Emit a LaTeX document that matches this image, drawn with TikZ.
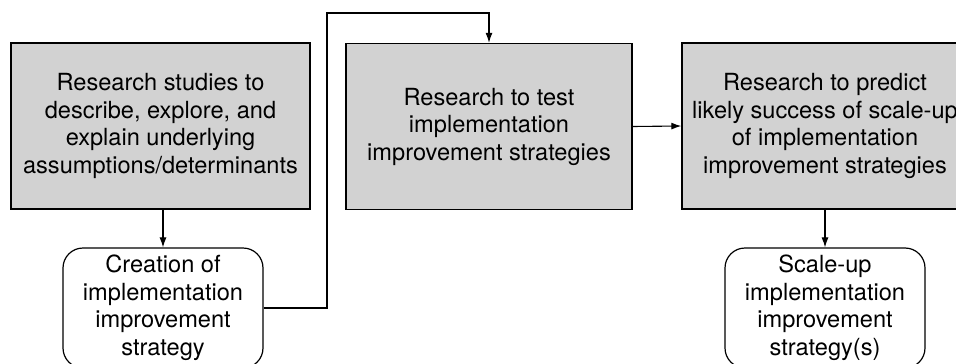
\documentclass[tikz,border=0pt]{standalone}
\usepackage{fontspec}
\setmainfont{TeX Gyre Heros}
\usetikzlibrary{arrows.meta}

\tikzset{
  studybox/.style={draw, fill=gray!35, line width=1.4pt, align=center,
    minimum height=166pt, inner sep=0pt},
  stratbox/.style={draw, fill=white, line width=1.2pt, rounded corners=20pt,
    align=center, minimum width=200pt, minimum height=120pt, inner sep=0pt},
  flow/.style={line width=1.1pt, -{Latex[length=10pt,width=7pt]}},
}

\begin{document}
\begin{tikzpicture}[x=1pt, y=-1pt, font=\fontsize{23.6}{27.5}\selectfont]
  \clip (0,0) rectangle (956,364);
  \fill[white] (0,0) rectangle (956,364);
  % ---------- research boxes ----------
  \node[studybox, minimum width=299pt] (describe) at (160.5,126)
    {Research studies to\\describe, explore, and\\explain underlying\\assumptions/determinants};
  \node[studybox, minimum width=286pt] (test) at (489,126.5)
    {Research to test\\implementation\\improvement strategies};
  \node[studybox, minimum width=286pt] (predict) at (825,126)
    {Research to predict\\likely success of scale-up\\of implementation\\improvement strategies};
  % ---------- strategy boxes ----------
  \node[stratbox] (create) at (163,308)
    {Creation of\\implementation\\improvement\\strategy};
  \node[stratbox] (scaleup) at (825,308)
    {Scale-up\\implementation\\improvement\\strategy(s)};
  % ---------- connectors ----------
  \coordinate (bend) at (327,13);
  \draw[flow] (describe.south -| create.north) -- (create.north);
  \draw[flow] (create.east) -| (bend) -| (test.north);
  \draw[flow] (test.east) -- (predict.west);
  \draw[flow] (predict.south) -- (scaleup.north);
\end{tikzpicture}
\end{document}
